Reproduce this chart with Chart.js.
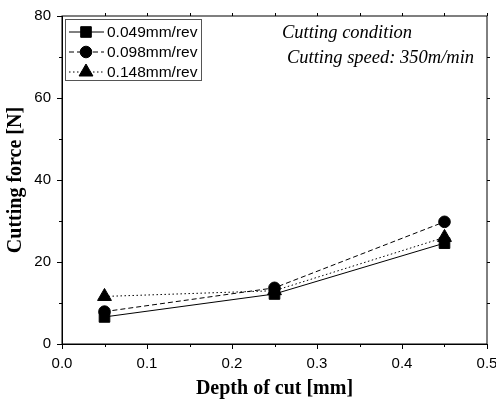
<!DOCTYPE html>
<html lang="en">
  <head>
    <meta charset="UTF-8" />
    <title>Cutting force vs depth of cut</title>
    <style>
      body {
        margin: 0;
        background: #fff;
      }
    </style>
    <script src="https://cdn.jsdelivr.net/npm/chart.js"></script>
  </head>
  <body>
    <canvas id="forceChart" width="496" height="405"></canvas>

    <script>
      // depth of cut [mm]
      const depths = [0.05, 0.25, 0.45];
      // cutting force [N] for each feed rate
      const force049 = [6.6, 12.2, 24.6];
      const force098 = [7.9, 13.7, 29.8];
      const force148 = [11.6, 13.0, 26.0];
      const feedLabels = ["0.049mm/rev", "0.098mm/rev", "0.148mm/rev"];

      const toPoints = (ys) => depths.map((x, i) => ({ x: x, y: ys[i] }));

      const serif = "'Liberation Serif', 'Times New Roman', serif";
      Chart.defaults.font.family = "'Liberation Sans', Arial, sans-serif";
      Chart.defaults.color = "#000";

      // frame, minor ticks, legend box and the note text
      const decorations = {
        id: "decorations",
        afterDraw(chart) {
          const ctx = chart.ctx;
          const a = chart.chartArea;
          const xs = chart.scales.x;
          const ys = chart.scales.y;
          ctx.save();
          ctx.strokeStyle = "#000";
          ctx.lineWidth = 1;
          ctx.strokeRect(a.left, a.top, a.right - a.left, a.bottom - a.top);

          ctx.beginPath();
          for (let v = 0.05; v < 0.5; v += 0.05) {
            const px = Math.round(xs.getPixelForValue(v)) + 0.5;
            const isMajor = Math.abs(v * 10 - Math.round(v * 10)) < 1e-6;
            if (!isMajor) {
              ctx.moveTo(px, a.bottom);
              ctx.lineTo(px, a.bottom + 3);
            }
            ctx.moveTo(px, a.top);
            ctx.lineTo(px, a.top - 3);
          }
          for (let v = 10; v < 80; v += 10) {
            const py = Math.round(ys.getPixelForValue(v)) + 0.5;
            if (v % 20 !== 0) {
              ctx.moveTo(a.left, py);
              ctx.lineTo(a.left - 3, py);
            }
            ctx.moveTo(a.right, py);
            ctx.lineTo(a.right + 3, py);
          }
          ctx.stroke();

          // legend
          const lx = a.left + 3;
          const ly = a.top + 3;
          ctx.strokeStyle = "#555";
          ctx.strokeRect(lx + 0.5, ly + 0.5, 136, 61);
          ctx.font = "15.5px 'Liberation Sans', Arial, sans-serif";
          ctx.textBaseline = "middle";
          ctx.fillStyle = "#000";
          chart.data.datasets.forEach((ds, i) => {
            const ry = ly + 13 + i * 20;
            ctx.strokeStyle = "#000";
            ctx.setLineDash(ds.borderDash || []);
            ctx.beginPath();
            ctx.moveTo(lx + 4, ry);
            ctx.lineTo(lx + 39, ry);
            ctx.stroke();
            ctx.setLineDash([]);
            Chart.helpers.drawPoint(
              ctx,
              { pointStyle: ds.pointStyle, radius: ds.pointRadius, rotation: 0, borderWidth: 1 },
              lx + 21,
              ry
            );
            ctx.fillText(feedLabels[i], lx + 42, ry + 1);
          });

          // note
          ctx.font = "italic 18.5px " + serif;
          ctx.textBaseline = "alphabetic";
          ctx.fillText("Cutting condition", 282, 38);
          ctx.fillText("Cutting speed: 350m/min", 287, 63);
          ctx.restore();
        },
      };

      const ctx = document.getElementById("forceChart").getContext("2d");
      new Chart(ctx, {
        type: "line",
        data: {
          datasets: [
            {
              label: feedLabels[0],
              data: toPoints(force049),
              borderColor: "#000",
              backgroundColor: "#000",
              borderWidth: 1,
              pointStyle: "rect",
              pointRadius: 7.5,
            },
            {
              label: feedLabels[1],
              data: toPoints(force098),
              borderColor: "#000",
              backgroundColor: "#000",
              borderWidth: 1,
              borderDash: [5, 3],
              pointStyle: "circle",
              pointRadius: 5.8,
            },
            {
              label: feedLabels[2],
              data: toPoints(force148),
              borderColor: "#000",
              backgroundColor: "#000",
              borderWidth: 1,
              borderDash: [1.5, 2.5],
              pointStyle: "triangle",
              pointRadius: 8,
            },
          ],
        },
        options: {
          responsive: false,
          animation: false,
          layout: { padding: { left: 0, right: 9, top: 16, bottom: 0 } },
          plugins: {
            legend: { display: false },
            tooltip: { enabled: false },
          },
          scales: {
            x: {
              type: "linear",
              min: 0,
              max: 0.5,
              ticks: {
                stepSize: 0.1,
                font: { size: 15 },
                padding: 6,
                callback: (v) => v.toFixed(1),
              },
              grid: { drawOnChartArea: false, tickLength: 5, color: "#000" },
              border: { color: "#000" },
              title: {
                display: true,
                text: "Depth of cut [mm]",
                font: { family: serif, size: 20, weight: "bold" },
                padding: { top: 6 },
              },
              afterFit: (s) => {
                s.height = 61;
                s.paddingLeft = 0;
                s.paddingRight = 0;
              },
            },
            y: {
              min: 0,
              max: 80,
              ticks: { stepSize: 20, font: { size: 15 }, padding: 6 },
              grid: { drawOnChartArea: false, tickLength: 5, color: "#000" },
              border: { color: "#000" },
              title: {
                display: true,
                text: "Cutting force [N]",
                font: { family: serif, size: 20, weight: "bold" },
                padding: { bottom: 2 },
              },
              afterFit: (s) => {
                s.width = 62;
                s.paddingTop = 0;
                s.paddingBottom = 0;
              },
            },
          },
        },
        plugins: [decorations],
      });
    </script>
  </body>
</html>
